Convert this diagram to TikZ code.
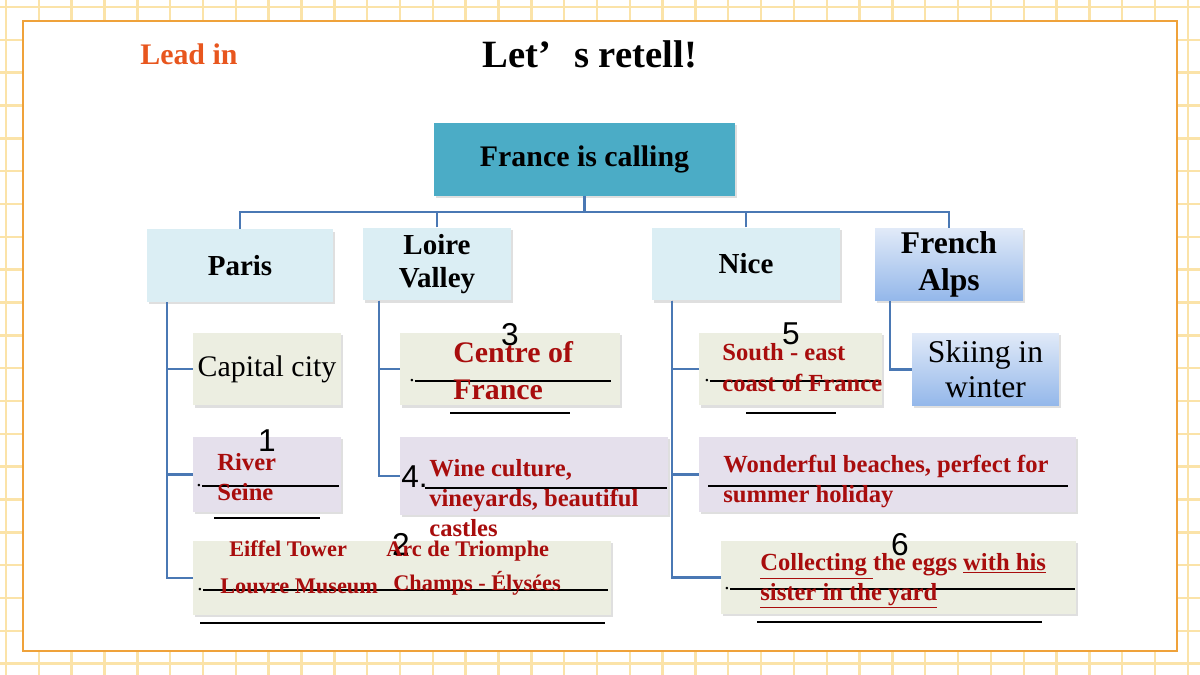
\documentclass[tikz,border=0pt]{standalone}
\usepackage{fontspec}
\setmainfont{Liberation Serif}
\newfontfamily\numfont{Liberation Sans}
\usetikzlibrary{shadows}

\definecolor{gridyellow}{HTML}{FBE3A8}
\definecolor{frameorange}{HTML}{EFA23A}
\definecolor{leadorange}{HTML}{E8561E}
\definecolor{rootteal}{HTML}{4BACC6}
\definecolor{cityblue}{HTML}{DBEEF4}
\definecolor{notegreen}{HTML}{ECEEE1}
\definecolor{notelilac}{HTML}{E5E0EC}
\definecolor{alpstop}{HTML}{E1EAF8}
\definecolor{alpsbottom}{HTML}{93B7EA}
\definecolor{linkblue}{HTML}{4A78B4}
\definecolor{answerred}{HTML}{A80D0D}

\tikzset{
  link/.style={draw=linkblue, line width=1.3pt},
  box/.style={inner sep=0pt, drop shadow={shadow xshift=1.3pt, shadow yshift=-1.3pt, opacity=0.25}},
  city/.style={box, fill=cityblue, align=center, minimum height=1.45cm,
    font=\bfseries\fontsize{16.5}{19}\selectfont},
  greennote/.style={box, fill=notegreen, minimum height=1.45cm},
  lilacnote/.style={box, fill=notelilac, minimum height=1.5cm},
  alpsnote/.style={box, top color=alpstop, bottom color=alpsbottom, align=center, minimum height=1.46cm},
  blank/.style={line width=0.8pt},
  ans/.style={anchor=base west, inner sep=0pt, text=answerred, font=\bfseries\fontsize{14}{17}\selectfont},
  sight/.style={ans, font=\bfseries\fontsize{12.7}{15}\selectfont},
  num/.style={anchor=base, inner sep=0pt, font=\numfont\fontsize{18}{20}\selectfont},
  dotmark/.style={anchor=base east, inner sep=0pt, font=\fontsize{12}{14}\selectfont}
}

\begin{document}
\begin{tikzpicture}[x=0.02cm, y=-0.02cm]
  \useasboundingbox (0,0) rectangle (1200,675);

  % paper grid and white sheet
  \foreach \k in {0,...,36} \draw[gridyellow, line width=1.4pt] (6+32.83*\k,0) -- (6+32.83*\k,675);
  \foreach \k in {0,...,20} \draw[gridyellow, line width=1.4pt] (0,7+32.83*\k) -- (1200,7+32.83*\k);
  \draw[frameorange, fill=white, line width=1.1pt] (23,21) rectangle (1177,651);

  % headings
  \node[anchor=base west, inner sep=0pt, text=leadorange, font=\bfseries\fontsize{17}{20}\selectfont] (lead) at (140,65) {Lead in};
  \node[anchor=base west, inner sep=0pt, font=\bfseries\fontsize{22}{26}\selectfont] (title) at (482,68) {Let’\hspace{0.6em}s retell!};

  % top of the tree
  \node[box, fill=rootteal, minimum width=6.02cm, minimum height=1.46cm,
    font=\bfseries\fontsize{17}{20}\selectfont] (france) at (584.5,159.5) {France is calling};
  \node[city, minimum width=3.72cm] (paris) at (240,265.5) {Paris};
  \node[city, minimum width=2.96cm, font=\bfseries\fontsize{16.5}{19}\selectfont] (loire) at (437,264) {Loire\\Valley};
  \node[city, minimum width=3.76cm] (nice) at (746,264) {Nice};
  \node[alpsnote, minimum width=2.96cm, font=\bfseries\fontsize{18}{21}\selectfont] (alps) at (949,264.5) {French\\Alps};

  \coordinate (bus) at (584.5,212);
  \draw[link] (france.south) -- (bus);
  \draw[link] (paris.north) |- (bus);
  \draw[link] (loire.north) |- (bus);
  \draw[link] (nice.north) |- (bus);
  \draw[link] (alps.north) |- (bus);

  % Paris column
  \node[greennote, minimum width=2.96cm, font=\fontsize{17}{20}\selectfont] (capital) at (267,369) {Capital city};
  \node[lilacnote, minimum width=2.96cm] (seine) at (267,474.5) {};
  \node[greennote, minimum width=8.36cm, minimum height=1.48cm] (sights) at (402,578) {};
  \draw[link] ([xshift=0.4cm]paris.south west) |- (capital.west);
  \draw[link] ([xshift=0.4cm]paris.south west) |- (seine.west);
  \draw[link] ([xshift=0.4cm]paris.south west) |- (sights.west);

  \node[num] (n1) at (267,451) {1};
  \node[dotmark] (d1) at (202,486) {.};
  \draw[blank] (202,486) -- (339,486);
  \draw[blank] (214,518) -- (320,518);
  \node[ans] (seine1) at (217,470) {River};
  \node[ans] (seine2) at (217,500) {Seine};

  \node[num] (n2) at (401,555) {2};
  \node[dotmark] (d2) at (203,590) {.};
  \draw[blank] (203,590) -- (608,590);
  \draw[blank] (200,623) -- (605,623);
  \node[sight] (eiffel) at (229,556) {Eiffel Tower};
  \node[sight] (arc) at (386,556) {Arc de Triomphe};
  \node[sight] (louvre) at (220,593) {Louvre Museum};
  \node[sight] (champs) at (393,590) {Champs - Élysées};

  % Loire Valley column
  \node[greennote, minimum width=4.4cm] (centre) at (510,369) {};
  \node[lilacnote, minimum width=5.36cm, minimum height=1.56cm] (wine) at (534,476) {};
  \draw[link] ([xshift=0.32cm]loire.south west) |- (centre.west);
  \draw[link] ([xshift=0.32cm]loire.south west) |- (wine.west);

  \node[num] (n3) at (510,346) {3};
  \node[dotmark] (d3) at (415,381) {.};
  \draw[blank] (415,381) -- (611,381);
  \draw[blank] (450,413) -- (570,413);
  \node[ans, font=\bfseries\fontsize{17}{20}\selectfont] (centre1) at (453,363) {Centre of};
  \node[ans, font=\bfseries\fontsize{17}{20}\selectfont] (centre2) at (453,399) {France};

  \node[num, anchor=base west] (n4) at (401,487) {4.};
  \draw[blank] (425,488) -- (667,488);
  \node[ans] (wine1) at (429,476) {Wine culture,};
  \node[ans] (wine2) at (429,506) {vineyards, beautiful};
  \node[ans] (wine3) at (429,536) {castles};

  % Nice column
  \node[greennote, minimum width=3.66cm] (coast) at (790.5,369) {};
  \node[lilacnote, minimum width=7.54cm] (beach) at (887.5,474.5) {};
  \node[greennote, minimum width=7.1cm, minimum height=1.46cm] (eggs) at (898.5,577.5) {};
  \draw[link] ([xshift=0.4cm]nice.south west) |- (coast.west);
  \draw[link] ([xshift=0.4cm]nice.south west) |- (beach.west);
  \draw[link] ([xshift=0.4cm]nice.south west) |- (eggs.west);

  \node[num] (n5) at (791,345) {5};
  \node[dotmark] (d5) at (710,381) {.};
  \draw[blank] (710,381) -- (881,381);
  \draw[blank] (746,413) -- (836,413);
  \node[ans] (coast1) at (722,361) {South - east};
  \node[ans] (coast2) at (722,392) {coast of France};

  \draw[blank] (708,486) -- (1068,486);
  \node[ans] (beach1) at (723,472) {Wonderful beaches, perfect for};
  \node[ans] (beach2) at (723,502) {summer holiday};

  \node[num] (n6) at (900,555) {6};
  \node[dotmark] (d6) at (730,589) {.};
  \draw[blank] (730,589) -- (1075,589);
  \draw[blank] (757,622) -- (1042,622);
  \node[ans] (eggs1) at (760,570) {\underline{Collecting\ }the eggs \underline{with his}};
  \node[ans] (eggs2) at (760,600) {\underline{sister in the yard}};

  % French Alps column
  \node[alpsnote, minimum width=2.94cm, font=\fontsize{18}{20}\selectfont] (ski) at (985.5,369.5) {Skiing in\\winter};
  \draw[link] ([xshift=0.3cm]alps.south west) |- (ski.west);
\end{tikzpicture}
\end{document}
